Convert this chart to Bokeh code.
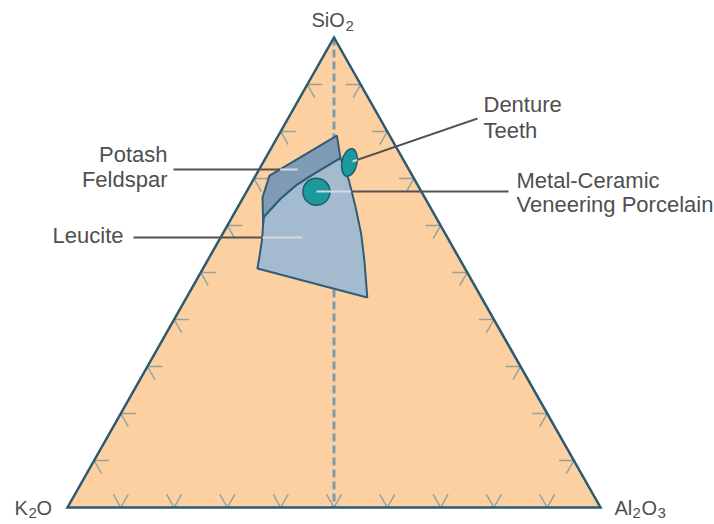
import numpy as np
from bokeh.plotting import figure
from bokeh.models import Range1d
from bokeh.core.properties import value
from bokeh.embed import file_html
from bokeh.resources import INLINE

# ---------------------------------------------------------------------------
# Data: compositions in wt % (SiO2, K2O, Al2O3)
# ---------------------------------------------------------------------------
vertex_sio2 = [0, 0, 100]
vertex_k2o = [100, 0, 0]
vertex_al2o3 = [0, 100, 0]

tick_percent = [10, 20, 30, 40, 50, 60, 70, 80, 90]

# potash feldspar field, outer corners (upper side)
feldspar_sio2 = [60.4, 66.0, 70.6, 79.1]
feldspar_k2o = [33.1, 30.4, 26.8, 9.9]
feldspar_al2o3 = [6.5, 3.6, 2.6, 11.0]

# boundary between feldspar and leucite fields (low to high silica)
divide_sio2 = [61.8, 65.7, 68.7, 71.0, 73.1, 74.4]
divide_k2o = [32.3, 27.2, 22.6, 18.3, 14.1, 11.6]
divide_al2o3 = [5.9, 7.1, 8.7, 10.7, 12.8, 14.0]

# leucite field, remaining outline (high silica side down, then back up)
leucite_sio2 = [69.6, 63.9, 58.2, 52.6, 44.7, 50.8, 54.0, 57.5, 60.4]
leucite_k2o = [12.4, 14.0, 15.8, 18.0, 21.4, 38.9, 36.9, 34.7, 33.1]
leucite_al2o3 = [18.0, 22.1, 26.0, 29.4, 33.9, 10.2, 9.1, 7.8, 6.5]

# ceramic products
product_names = ["Denture Teeth", "Metal-Ceramic Veneering Porcelain"]
product_sio2 = [73.4, 67.2]
product_k2o = [10.4, 19.7]
product_al2o3 = [16.2, 13.1]

# ---------------------------------------------------------------------------
# Layout
# ---------------------------------------------------------------------------
W, H = 714, 524
K_PX = (67, 507)      # K2O corner on screen
SX = 533              # base length, px
SY = 470              # triangle height, px


def tern(si, k, al):
    si = np.asarray(si, float)
    k = np.asarray(k, float)
    al = np.asarray(al, float)
    tot = si + k + al
    return al / tot + 0.5 * si / tot, si / tot


def at(px, py):
    return (px - K_PX[0]) / SX, (K_PX[1] - py) / SY


p = figure(width=W, height=H,
           x_range=Range1d(-K_PX[0] / SX, (W - K_PX[0]) / SX),
           y_range=Range1d(-(H - K_PX[1]) / SY, K_PX[1] / SY),
           output_backend="svg", toolbar_location=None,
           x_axis_location=None, y_axis_location=None, min_border=0)
p.grid.visible = False
p.outline_line_color = None
p.background_fill_color = "white"
p.border_fill_color = "white"

EDGE = "#2c5a72"
TEXT = "#4f4f4f"
FONT = value("Liberation Sans")

# triangle body
tx, ty = tern(vertex_sio2, vertex_k2o, vertex_al2o3)
p.patch(tx, ty, fill_color="#fdd0a2", line_color=None)

# SiO2 axis at K2O:Al2O3 = 1:1
dx, dy = tern([100, 0], [0, 50], [0, 50])
p.line(dx, dy, line_color="#7f9cae", line_width=3, line_dash="8 4")

# grid stubs along each edge
d = 2.8
xs, ys = [], []
for t in tick_percent:
    f = float(t)
    stubs = [
        # bottom edge (SiO2 = 0)
        [(0, 100 - f, f), (d, 100 - f - d, f)],
        [(0, 100 - f, f), (d, 100 - f, f - d)],
        # left edge (Al2O3 = 0)
        [(f, 100 - f, 0), (f, 100 - f - d, d)],
        [(f, 100 - f, 0), (f - d, 100 - f, d)],
        # right edge (K2O = 0)
        [(f, 0, 100 - f), (f, d, 100 - f - d)],
        [(f, 0, 100 - f), (f - d, d, 100 - f)],
    ]
    for a, b in stubs:
        sx, sy = tern([a[0], b[0]], [a[1], b[1]], [a[2], b[2]])
        xs.append(list(sx))
        ys.append(list(sy))
p.multi_line(xs, ys, line_color="#93a29c", line_width=1.5)

# phase fields
fel_si = feldspar_sio2 + divide_sio2[::-1]
fel_k = feldspar_k2o + divide_k2o[::-1]
fel_al = feldspar_al2o3 + divide_al2o3[::-1]
fx, fy = tern(fel_si, fel_k, fel_al)

leu_si = divide_sio2 + leucite_sio2
leu_k = divide_k2o + leucite_k2o
leu_al = divide_al2o3 + leucite_al2o3
lx, ly = tern(leu_si, leu_k, leu_al)

p.patch(lx, ly, fill_color="#a4bace", line_color="#2f5d78", line_width=2)
p.patch(fx, fy, fill_color="#7f9bb5", line_color="#2f5d78", line_width=2)

# products
px_, py_ = tern(product_sio2, product_k2o, product_al2o3)
ell_w = [15, 27]
ell_h = [28, 27]
ell_a = [-0.2, 0.0]
p.ellipse(px_, py_, width=ell_w, height=ell_h, angle=ell_a,
          width_units="screen", height_units="screen",
          fill_color="#1a9a9d", line_color="#1f5e6c", line_width=1.5)

# triangle outline on top
p.patch(tx, ty, fill_color=None, line_color=EDGE, line_width=2.5,
        line_join="miter")


# leader lines: dark over the background, pale across filled shapes
def inside_poly(x, y, vx, vy):
    n = len(vx)
    c = False
    j = n - 1
    for i in range(n):
        if (vy[i] > y) != (vy[j] > y):
            xi = (vx[j] - vx[i]) * (y - vy[i]) / (vy[j] - vy[i]) + vx[i]
            if x < xi:
                c = not c
        j = i
    return c


def inside_ell(x, y):
    for cx, cy, w, h, a in zip(px_, py_, ell_w, ell_h, ell_a):
        ex, ey = (x - cx) * SX, (y - cy) * SY
        u = ex * np.cos(a) + ey * np.sin(a)
        v = -ex * np.sin(a) + ey * np.cos(a)
        if (u / (w / 2)) ** 2 + (v / (h / 2)) ** 2 <= 1:
            return True
    return False


def inside(x, y):
    return inside_poly(x, y, lx, ly) or inside_poly(x, y, fx, fy) or inside_ell(x, y)


leaders = [((173, 169), (297, 169)),
           ((133, 237), (302, 237)),
           ((508, 191), (316, 191)),
           ((477, 118), (352, 161))]
dark_x, dark_y, pale_x, pale_y = [], [], [], []
for a, b in leaders:
    ax, ay = at(*a)
    bx, by = at(*b)
    ts = np.linspace(0, 1, 301)
    qx = ax + (bx - ax) * ts
    qy = ay + (by - ay) * ts
    flags = [inside(x, y) for x, y in zip(qx, qy)]
    start = 0
    for i in range(1, len(ts) + 1):
        if i == len(ts) or flags[i] != flags[start]:
            seg_x = list(qx[start:min(i + 1, len(ts))])
            seg_y = list(qy[start:min(i + 1, len(ts))])
            if flags[start]:
                pale_x.append(seg_x)
                pale_y.append(seg_y)
            else:
                dark_x.append(seg_x)
                dark_y.append(seg_y)
            start = i
p.multi_line(dark_x, dark_y, line_color="#525252", line_width=2)
p.multi_line(pale_x, pale_y, line_color="#d3dae2", line_width=2)


def label(px, py, txt, size, align="left"):
    x, y = at(px, py)
    p.text([x], [y], text=[txt], text_font=FONT, text_font_size=value(f"{size}px"),
           text_color=TEXT, text_align=align, text_baseline="middle")


# corner labels with subscripts (y = vertical centre of the glyphs)
label(311, 19, "SiO", 20)
label(345, 25, "2", 15)
label(14, 507, "K", 20)
label(28, 512, "2", 15)
label(36, 507, "O", 20)
label(614, 507, "Al", 20)
label(632, 512, "2", 15)
label(641, 507, "O", 20)
label(657, 512, "3", 15)

# field and product labels
label(167, 154, "Potash", 22, "right")
label(167, 179, "Feldspar", 22, "right")
label(123, 235, "Leucite", 22, "right")
label(483, 104, "Denture", 22)
label(483, 130, "Teeth", 22)
label(516, 180, "Metal-Ceramic", 22)
label(516, 204, "Veneering Porcelain", 22)

with open("out.html", "w") as fh:
    fh.write(file_html(p, INLINE))
